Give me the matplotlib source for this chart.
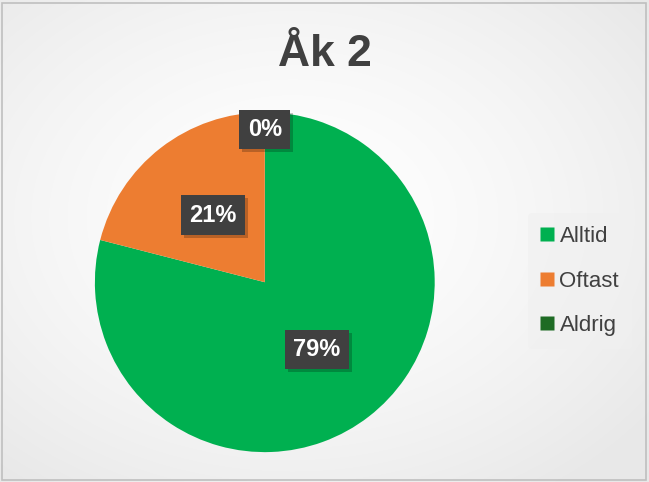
import numpy as np
import matplotlib
matplotlib.use("Agg")
import matplotlib.pyplot as plt
from matplotlib.lines import Line2D
from matplotlib.patches import Rectangle
from matplotlib.transforms import IdentityTransform

title = "Åk 2"
categories = ["Alltid", "Oftast", "Aldrig"]
values = [79, 21, 0]
labels = ["79%", "21%", "0%"]
colors = ["#00B050", "#ED7D31", "#1E6B24"]

W, H = 649, 482
fig = plt.figure(figsize=(W / 100, H / 100), dpi=100)
fig.patch.set_facecolor("#f2f2f2")

# background radial gradient
bg = fig.add_axes([0, 0, 1, 1], zorder=-10)
yy, xx = np.mgrid[0:H, 0:W]
d = np.sqrt(((xx - W * 0.45) / W) ** 2 + ((yy - H * 0.45) / H) ** 2)
g = 1.0 - 0.09 * np.clip(d / 0.7, 0, 1) ** 1.5
bg.imshow(np.dstack([g, g, g]), aspect="auto", extent=[0, 1, 0, 1], origin="upper")
bg.set_xlim(0, 1); bg.set_ylim(0, 1)
bg.axis("off")
bg.add_patch(Rectangle((2 / W, 2 / H), 1 - 5 / W, 1 - 5 / H, fill=False,
                       edgecolor="#bfbfbf", linewidth=1.2, transform=bg.transAxes))

ax = fig.add_axes([0.146, 0.062, 0.524, 0.705])
wedges, _ = ax.pie(values, colors=colors, startangle=90, counterclock=False,
                   radius=1, wedgeprops=dict(linewidth=0))
ax.set_xlim(-1, 1); ax.set_ylim(-1, 1)
ax.set_aspect("equal")
ax.axis("off")

label_texts = []
for w, lab, v in zip(wedges, labels, values):
    mid = np.deg2rad((w.theta1 + w.theta2) / 2)
    r = 0.5 if v > 0 else 0.9
    x, y = r * np.cos(mid), r * np.sin(mid)
    t = ax.text(x, y, lab, color="white", ha="center", va="center", fontsize=17,
                fontweight="bold", family="Liberation Sans",
                bbox=dict(boxstyle="square,pad=0.35", facecolor="#404040",
                          edgecolor="none"), zorder=5)
    label_texts.append(t)

fig.text(0.5, 0.886, title, ha="center", va="center", fontsize=32,
         fontweight="bold", color="#404040", family="Liberation Sans")

handles = [Line2D([], [], linestyle="none", marker="s", markersize=9.5,
                  markerfacecolor=c, markeredgecolor="none") for c in colors]
leg = fig.legend(handles, categories, loc="center left",
                 bbox_to_anchor=(0.797, 0.417), frameon=True,
                 handlelength=0.5, handletextpad=0.3, labelspacing=1.05,
                 borderpad=0.6, prop=dict(family="Liberation Sans", size=16))
leg.get_frame().set_facecolor("#f0f0f0")
leg.get_frame().set_edgecolor("none")
leg.get_frame().set_alpha(0.6)
for t in leg.get_texts():
    t.set_color("#404040")

# drop shadows behind the label boxes
fig.canvas.draw()
for t in label_texts:
    bb = t.get_bbox_patch().get_window_extent()
    sh = Rectangle((bb.x0 + 3, bb.y0 - 3), bb.width, bb.height,
                   transform=IdentityTransform(), facecolor="black", alpha=0.22,
                   edgecolor="none", zorder=4, clip_on=False)
    ax.add_artist(sh)

fig.savefig("out.png", dpi=100)
